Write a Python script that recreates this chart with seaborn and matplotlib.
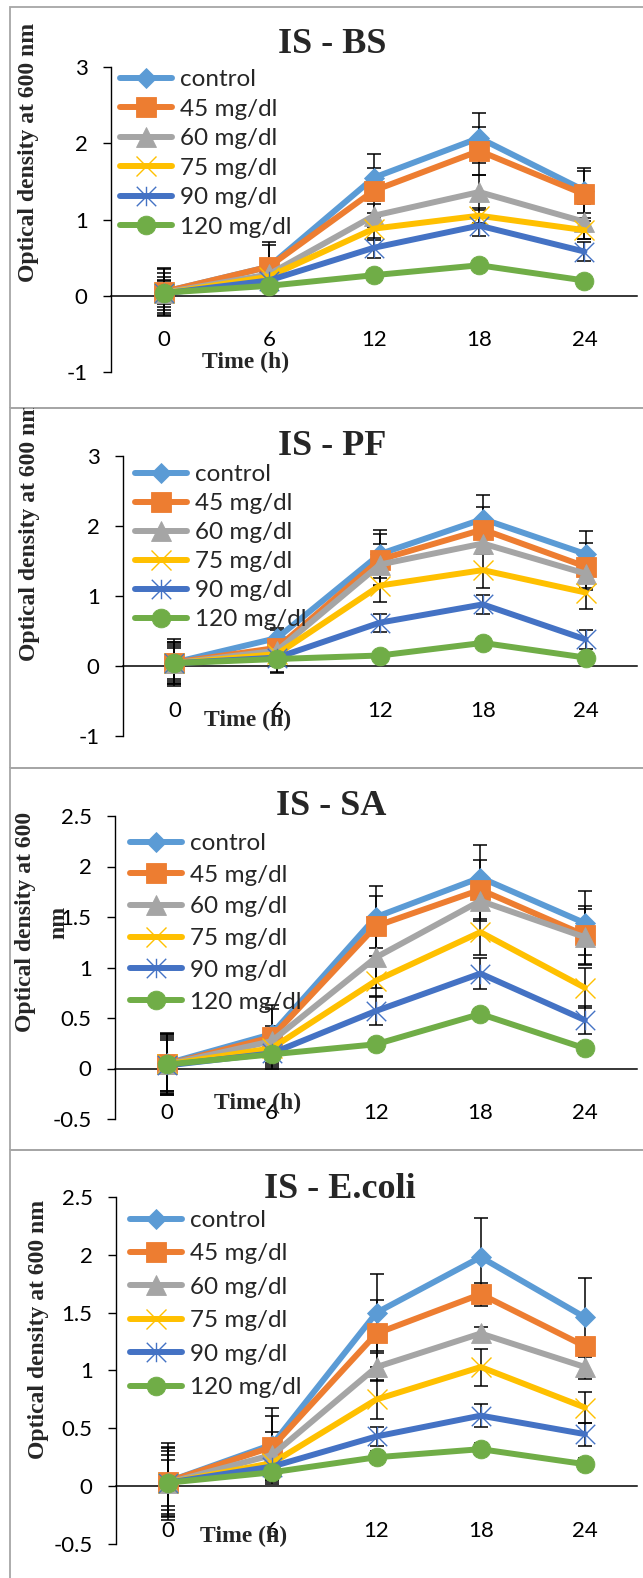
import numpy as np
import pandas as pd
import matplotlib
matplotlib.use("Agg")
import matplotlib.pyplot as plt
import seaborn as sns
from matplotlib.path import Path
from matplotlib.patches import Rectangle
from matplotlib.transforms import Bbox, TransformedBbox
from matplotlib.ticker import FuncFormatter

# ---------------- data ----------------
times = ["0", "6", "12", "18", "24"]
series = ["control", "45 mg/dl", "60 mg/dl", "75 mg/dl", "90 mg/dl", "120 mg/dl"]
titles = ["IS - BS", "IS - PF", "IS - SA", "IS - E.coli"]

bs_od = [
    [0.05, 0.38, 1.55, 2.07, 1.38],
    [0.05, 0.38, 1.38, 1.90, 1.33],
    [0.04, 0.28, 1.05, 1.36, 0.97],
    [0.03, 0.25, 0.88, 1.05, 0.86],
    [0.03, 0.20, 0.63, 0.92, 0.58],
    [0.04, 0.13, 0.27, 0.40, 0.20],
]
bs_err = [
    [0.32, 0.32, 0.31, 0.33, 0.30],
    [0.30, 0.28, 0.30, 0.31, 0.31],
    [0.26, 0.12, 0.15, 0.23, 0.23],
    [0.22, 0.10, 0.15, 0.10, 0.12],
    [0.18, 0.08, 0.13, 0.13, 0.13],
    [0.15, 0.05, 0.05, 0.05, 0.05],
]

pf_od = [
    [0.05, 0.40, 1.60, 2.10, 1.60],
    [0.05, 0.26, 1.52, 1.95, 1.42],
    [0.04, 0.22, 1.45, 1.75, 1.32],
    [0.04, 0.17, 1.15, 1.37, 1.05],
    [0.04, 0.12, 0.62, 0.88, 0.38],
    [0.04, 0.10, 0.15, 0.33, 0.12],
]
pf_err = [
    [0.34, 0.14, 0.34, 0.35, 0.33],
    [0.30, 0.25, 0.36, 0.32, 0.34],
    [0.28, 0.20, 0.30, 0.15, 0.20],
    [0.25, 0.15, 0.24, 0.25, 0.23],
    [0.22, 0.22, 0.13, 0.14, 0.14],
    [0.30, 0.18, 0.05, 0.05, 0.05],
]

sa_od = [
    [0.05, 0.34, 1.50, 1.89, 1.44],
    [0.04, 0.31, 1.41, 1.77, 1.32],
    [0.04, 0.27, 1.10, 1.66, 1.30],
    [0.04, 0.20, 0.87, 1.35, 0.80],
    [0.03, 0.15, 0.57, 0.94, 0.48],
    [0.04, 0.14, 0.24, 0.54, 0.20],
]
sa_err = [
    [0.30, 0.29, 0.31, 0.32, 0.32],
    [0.30, 0.28, 0.30, 0.29, 0.29],
    [0.28, 0.15, 0.30, 0.20, 0.28],
    [0.26, 0.12, 0.15, 0.23, 0.20],
    [0.25, 0.14, 0.14, 0.15, 0.14],
    [0.30, 0.14, 0.05, 0.05, 0.05],
]

ec_od = [
    [0.04, 0.36, 1.50, 1.98, 1.46],
    [0.04, 0.34, 1.32, 1.66, 1.21],
    [0.03, 0.27, 1.03, 1.32, 1.03],
    [0.03, 0.20, 0.75, 1.03, 0.68],
    [0.03, 0.17, 0.43, 0.61, 0.45],
    [0.03, 0.12, 0.25, 0.32, 0.19],
]
ec_err = [
    [0.33, 0.32, 0.33, 0.34, 0.34],
    [0.30, 0.27, 0.29, 0.10, 0.06],
    [0.27, 0.20, 0.12, 0.06, 0.10],
    [0.24, 0.15, 0.17, 0.16, 0.13],
    [0.20, 0.12, 0.08, 0.10, 0.10],
    [0.30, 0.10, 0.05, 0.05, 0.05],
]

panel_od = [bs_od, pf_od, sa_od, ec_od]
panel_err = [bs_err, pf_err, sa_err, ec_err]

# ---------------- style ----------------
sns.set_theme(style="white")
plt.rcParams["font.family"] = ["Lato", "DejaVu Sans"]

colors = ["#5B9BD5", "#ED7D31", "#A5A5A5", "#FFC000", "#4472C4", "#70AD47"]
star = Path([(0, -1), (0, 1), (-1, -1), (1, 1), (-1, 1), (1, -1)],
            [Path.MOVETO, Path.LINETO] * 3)
markers = ["D", "s", "^", "x", star, "o"]
msizes = [10.5, 14, 14, 14, 14, 13.5]
filled = [True, True, True, False, False, True]

W, H = 643, 1578
fig = plt.figure(figsize=(W / 100, H / 100), dpi=100)


def fx(px):
    return px / W


def fy(py):
    return 1 - py / H


# layout per panel: axes x0, x1, ytop, ybottom (px)
layouts = [
    dict(x0=111, x1=637, yt=67, yb=372, ylim=(-1, 3), yticks=[-1, 0, 1, 2, 3],
         box=(7, 408), title=(332, 53), ylab=(29, 152), tlab=(246, 362),
         leg=(120, 69, 0.35)),
    dict(x0=123, x1=637, yt=456, yb=736, ylim=(-1, 3), yticks=[-1, 0, 1, 2, 3],
         box=(408, 768), title=(332, 455), ylab=(30, 531), tlab=(248, 720),
         leg=(135, 464, 0.33)),
    dict(x0=115, x1=637, yt=816, yb=1119, ylim=(-0.5, 2.5),
         yticks=[-0.5, 0, 0.5, 1, 1.5, 2, 2.5],
         box=(768, 1150), title=(331, 815), ylab=(42, 922), tlab=(258, 1103),
         leg=(130, 833, 0.44)),
    dict(x0=116, x1=637, yt=1197, yb=1544, ylim=(-0.5, 2.5),
         yticks=[-0.5, 0, 0.5, 1, 1.5, 2, 2.5],
         box=(1150, 1620), title=(340, 1198), ylab=(39, 1329), tlab=(244, 1536),
         leg=(130, 1210, 0.51)),
]
ylabels = ["Optical density at 600 nm", "Optical density at 600 nm",
           "Optical density at 600\nnm", "Optical density at 600 nm"]

xpos = np.arange(len(times))

for p, L in enumerate(layouts):
    # panel frame
    top, bot = L["box"]
    fig.add_artist(Rectangle((fx(10), fy(bot)), 1.0, (bot - top) / H,
                             transform=fig.transFigure, fill=False,
                             edgecolor="#A6A6A6", linewidth=1.3, zorder=0))

    ax = fig.add_axes([fx(L["x0"]), fy(L["yb"]), fx(L["x1"]) - fx(L["x0"]),
                       (L["yb"] - L["yt"]) / H])
    ax.set_facecolor("none")

    od = panel_od[p]
    err = panel_err[p]
    handles = []
    for i, name in enumerate(series):
        ax.errorbar(xpos, od[i], yerr=err[i], fmt="none", ecolor="black",
                    elinewidth=1.1, capsize=5, capthick=1.1, zorder=2)
        df = pd.DataFrame({"t": xpos, "od": od[i]})
        sns.lineplot(data=df, x="t", y="od", ax=ax, color=colors[i],
                     marker=markers[i], markersize=msizes[i], linewidth=4.3,
                     markeredgecolor=colors[i],
                     markerfacecolor=colors[i] if filled[i] else "none",
                     markeredgewidth=0.6 if filled[i] else 1.0,
                     errorbar=None, zorder=3 + i, label=name, legend=False)
        handles.append(ax.lines[-1])

    ax.set_xlim(-0.5, len(times) - 0.5)
    ax.set_ylim(*L["ylim"])
    ax.set_yticks(L["yticks"])
    ax.yaxis.set_major_formatter(FuncFormatter(lambda v, _: f"{v:g}"))
    ax.set_xticks(xpos)
    ax.set_xticklabels(times)
    ax.set_xlabel("")
    ax.set_ylabel("")
    for s in ["top", "right"]:
        ax.spines[s].set_visible(False)
    ax.spines["left"].set_color("black")
    ax.spines["left"].set_linewidth(1.0)
    ax.spines["bottom"].set_position(("data", 0))
    ax.spines["bottom"].set_color("black")
    ax.spines["bottom"].set_linewidth(1.1)
    ax.tick_params(axis="y", direction="out", length=5.8, width=1.0,
                   color="black", pad=11, labelsize=16, labelcolor="black",
                   left=True)
    ax.tick_params(axis="x", length=0, pad=25, labelsize=16,
                   labelcolor="black", bottom=True)
    ax.grid(False)

    lx, ly, lsp = L["leg"]
    ax.legend(handles=handles, labels=series, loc="upper left",
              bbox_to_anchor=(fx(lx), fy(ly)), bbox_transform=fig.transFigure,
              frameon=False, fontsize=17.5, borderpad=0, borderaxespad=0,
              handlelength=2.13, handletextpad=0.33, labelspacing=lsp,
              numpoints=1)

    tx, ty = L["title"]
    fig.text(fx(tx), fy(ty), titles[p], ha="center", va="baseline",
             fontsize=26, fontweight="bold", family="Liberation Serif")

    yx, yy = L["ylab"]
    yl = fig.text(fx(yx), fy(yy), ylabels[p], rotation=90, ha="center",
                  va="center", multialignment="center", fontsize=17,
                  linespacing=1.75, fontweight="bold",
                  family="Liberation Serif")
    yl.set_clip_box(TransformedBbox(Bbox([[0, fy(bot)], [1, fy(top)]]),
                                    fig.transFigure))
    yl.set_clip_on(True)

    tlx, tly = L["tlab"]
    fig.text(fx(tlx), fy(tly), "Time (h)", ha="center", va="center",
             fontsize=17, fontweight="bold", family="Liberation Serif")

fig.savefig("out.png", dpi=100, facecolor="white")
